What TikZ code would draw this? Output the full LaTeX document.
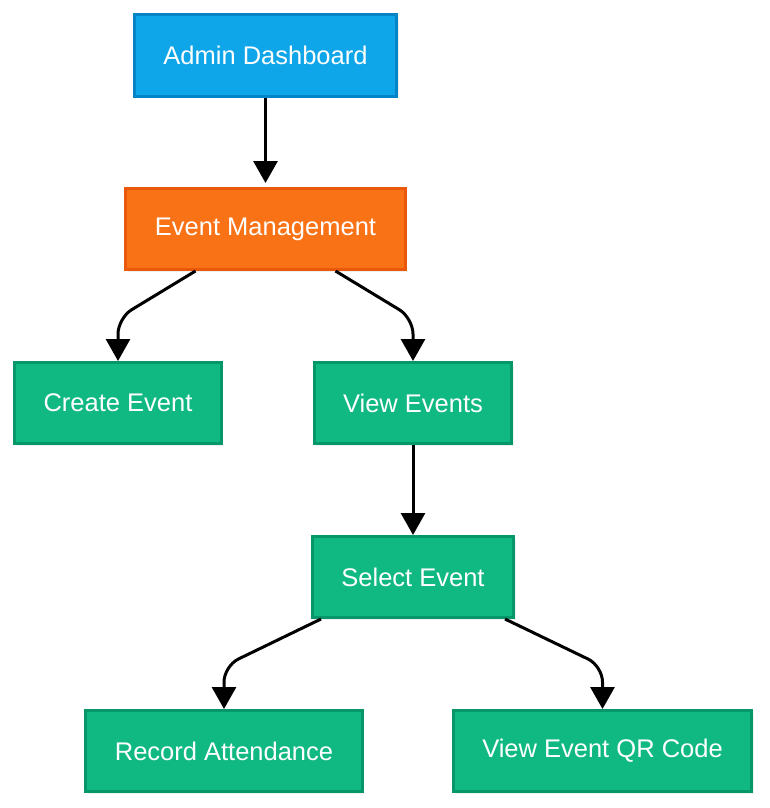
\documentclass[tikz,border=0pt]{standalone}
\usepackage{fontspec}
\setmainfont{Liberation Sans}
\usetikzlibrary{arrows.meta}
\usetikzlibrary{shadows}
\definecolor{adminfill}{HTML}{0EA5E9}
\definecolor{adminline}{HTML}{0284C7}
\definecolor{mgmtfill}{HTML}{F97316}
\definecolor{mgmtline}{HTML}{EA580C}
\definecolor{stepfill}{HTML}{10B981}
\definecolor{stepline}{HTML}{059669}
\tikzset{
	box/.style={draw, line width=3pt, text=white, minimum height=81pt, inner xsep=29pt,
		font=\fontsize{25.5}{30}\selectfont,
		drop shadow={opacity=0.12, shadow xshift=2pt, shadow yshift=-2pt}},
	adminbox/.style={box, fill=adminfill, draw=adminline},
	mgmtbox/.style={box, fill=mgmtfill, draw=mgmtline},
	stepbox/.style={box, fill=stepfill, draw=stepline},
	flow/.style={line width=3pt, rounded corners=16pt, -{Triangle[width=24pt,length=22pt]}}
}
\begin{document}
\begin{tikzpicture}[x=1pt,y=-1pt]
				\useasboundingbox (0,0) rectangle (769,808);
				
				\node[adminbox] (admin) at (265.5, 55.5) {Admin Dashboard};
				\node[mgmtbox] (mgmt) at (265.5, 229) {Event Management};
				
				\node[stepbox] (create) at (118, 403) {Create Event};
				\node[stepbox] (view) at (413, 403) {View Events};
				\node[stepbox] (select) at (413, 577) {Select Event};
				
				\node[stepbox] (record) at (224, 751) {Record Attendance};
				\node[stepbox] (qrcode) at (602.5, 751) {View Event QR Code};
				
				\draw[flow] (admin) to ([yshift=4pt]mgmt.north);
				\draw[flow] ([xshift=-70pt]mgmt.south) -- ([yshift=43pt]create.north) -- (create.north);
				\draw[flow] ([xshift=70pt]mgmt.south) -- ([yshift=43pt]view.north) -- (view.north);
				\draw[flow] (view) to (select);
				\draw[flow] ([xshift=-92pt]select.south) -- ([yshift=43pt]record.north) -- (record.north);
				\draw[flow] ([xshift=92pt]select.south) -- ([yshift=43pt]qrcode.north) -- (qrcode.north);
				
\end{tikzpicture}
\end{document}
